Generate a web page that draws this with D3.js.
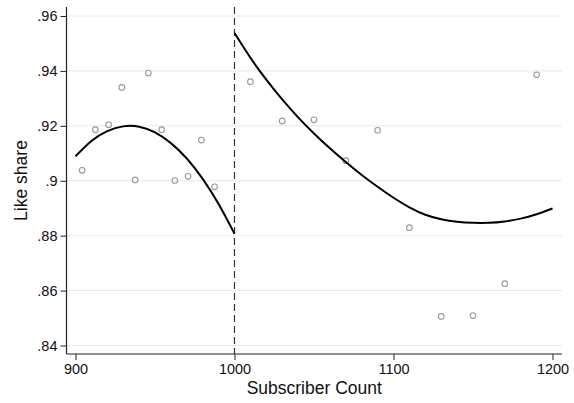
<!DOCTYPE html>
<html>
<head>
<meta charset="utf-8">
<script src="https://cdn.jsdelivr.net/npm/d3@7"></script>
<style>
  html, body { margin: 0; padding: 0; background: #fff; }
  svg { display: block; font-family: "Liberation Sans", Arial, sans-serif; }
</style>
</head>
<body>
<svg id="chart" width="574" height="403"></svg>
<script>
// Binned means below the 1000-subscriber cutoff
const leftBinX = [904.17, 912.5, 920.83, 929.17, 937.5, 945.83, 954.17, 962.5, 970.83, 979.17, 987.5];
const leftBinY = [0.9038, 0.9186, 0.9204, 0.9340, 0.9003, 0.9392, 0.9186, 0.9001, 0.9016, 0.9148, 0.8978];

// Binned means above the cutoff
const rightBinX = [1010, 1030, 1050, 1070, 1090, 1110, 1130, 1150, 1170, 1190];
const rightBinY = [0.9361, 0.9218, 0.9222, 0.9073, 0.9184, 0.8829, 0.8506, 0.8509, 0.8625, 0.9386];

// Polynomial fit, left of cutoff
const leftFitX = [900, 910, 920, 930, 940, 950, 960, 970, 980, 990, 1000];
const leftFitY = [0.9089, 0.9145, 0.9181, 0.9198, 0.9197, 0.9176, 0.9137, 0.9081, 0.9007, 0.8915, 0.8807];

// Polynomial fit, right of cutoff
const rightFitX = [1000, 1010, 1020, 1030, 1040, 1050, 1060, 1070, 1080, 1090, 1100,
                   1110, 1120, 1130, 1140, 1150, 1160, 1170, 1180, 1190, 1200];
const rightFitY = [0.9538, 0.9448, 0.9368, 0.9296, 0.9231, 0.9172, 0.9118, 0.9068, 0.9021, 0.8978, 0.8938,
                   0.8903, 0.8876, 0.8860, 0.8851, 0.8847, 0.8847, 0.8852, 0.8862, 0.8878, 0.8899];

const cutoff = 1000;
const xTicks = [900, 1000, 1100, 1200];
const yTicks = [0.84, 0.86, 0.88, 0.90, 0.92, 0.94, 0.96];
const yTickLabels = [".84", ".86", ".88", ".9", ".92", ".94", ".96"];

const svg = d3.select("#chart");

const plotLeft = 66.5, plotRight = 562, plotTop = 7, plotBottom = 354;
const x = d3.scaleLinear().domain([900, 1200]).range([75.5, 552.5]);
const y = d3.scaleLinear().domain([0.84, 0.96]).range([345.5, 16]);

// Gridlines
svg.append("g")
  .selectAll("line")
  .data(yTicks)
  .join("line")
  .attr("x1", plotLeft).attr("x2", plotRight)
  .attr("y1", d => y(d)).attr("y2", d => y(d))
  .attr("stroke", "#e8e8e8")
  .attr("stroke-width", 1);

// Y axis
const yAxis = d3.axisLeft(y)
  .tickValues(yTicks)
  .tickFormat((d, i) => yTickLabels[i])
  .tickSize(6)
  .tickPadding(3);
const gy = svg.append("g").attr("transform", `translate(${plotLeft},0)`).call(yAxis);
gy.select(".domain").remove();
gy.selectAll(".tick line").attr("stroke", "#222").attr("stroke-width", 1);
gy.selectAll(".tick text").attr("font-size", 14.5).attr("fill", "#111")
  .attr("font-family", '"Liberation Sans", Arial, sans-serif');
svg.append("line")
  .attr("x1", plotLeft).attr("x2", plotLeft)
  .attr("y1", plotTop).attr("y2", plotBottom)
  .attr("stroke", "#222").attr("stroke-width", 1.2);

// X axis
const xAxis = d3.axisBottom(x)
  .tickValues(xTicks)
  .tickFormat(d3.format("d"))
  .tickSize(6)
  .tickPadding(4);
const gx = svg.append("g").attr("transform", `translate(0,${plotBottom})`).call(xAxis);
gx.select(".domain").remove();
gx.selectAll(".tick line").attr("stroke", "#222").attr("stroke-width", 1);
gx.selectAll(".tick text").attr("font-size", 14.5).attr("fill", "#111")
  .attr("font-family", '"Liberation Sans", Arial, sans-serif');
svg.append("line")
  .attr("x1", plotLeft).attr("x2", plotRight)
  .attr("y1", plotBottom).attr("y2", plotBottom)
  .attr("stroke", "#222").attr("stroke-width", 1.2);

// Cutoff line
svg.append("line")
  .attr("x1", x(cutoff)).attr("x2", x(cutoff))
  .attr("y1", plotTop).attr("y2", plotBottom)
  .attr("stroke", "#333")
  .attr("stroke-width", 1.2)
  .attr("stroke-dasharray", "7,4");

// Binned scatter
const pts = leftBinX.map((d, i) => [d, leftBinY[i]])
  .concat(rightBinX.map((d, i) => [d, rightBinY[i]]));
svg.append("g")
  .selectAll("circle")
  .data(pts)
  .join("circle")
  .attr("cx", d => x(d[0]))
  .attr("cy", d => y(d[1]))
  .attr("r", 2.8)
  .attr("fill", "none")
  .attr("stroke", "#999")
  .attr("stroke-width", 1.1);

// Fitted curves
const line = d3.line()
  .x(d => x(d[0]))
  .y(d => y(d[1]))
  .curve(d3.curveNatural);
[[leftFitX, leftFitY], [rightFitX, rightFitY]].forEach(([xs, ys]) => {
  svg.append("path")
    .datum(xs.map((d, i) => [d, ys[i]]))
    .attr("d", line)
    .attr("fill", "none")
    .attr("stroke", "#000")
    .attr("stroke-width", 2);
});

// Axis titles
svg.append("text")
  .attr("x", (plotLeft + plotRight) / 2)
  .attr("y", 394)
  .attr("text-anchor", "middle")
  .attr("font-size", 17.5)
  .attr("fill", "#111")
  .text("Subscriber Count");

svg.append("text")
  .attr("transform", `translate(27,${(plotTop + plotBottom) / 2}) rotate(-90)`)
  .attr("text-anchor", "middle")
  .attr("font-size", 17.5)
  .attr("fill", "#111")
  .text("Like share");
</script>
</body>
</html>
